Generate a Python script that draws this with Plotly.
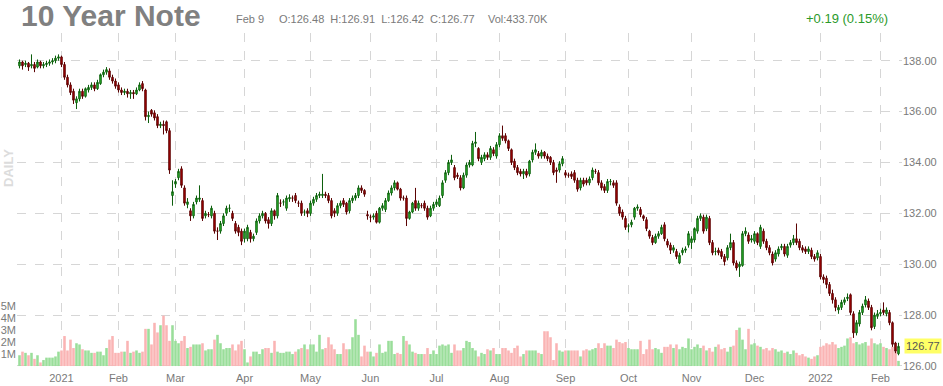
import pandas as pd
import plotly.graph_objects as go

# ---------------- data ----------------
holidays = ["2020-12-25", "2021-01-01", "2021-01-18", "2021-02-15", "2021-05-31",
            "2021-07-05", "2021-09-06", "2021-11-25", "2021-12-24", "2022-01-17"]
start_date, end_date = "2020-12-11", "2022-02-09"

opens = [
    # Dec 2020
    137.80, 137.95, 137.85, 137.90, 137.80, 137.85, 137.75, 137.95, 137.80, 137.85, 137.90, 137.95, 138.00, 138.10,
    # Jan 2021
    138.15, 137.85, 137.35, 137.05, 136.80, 136.35, 136.50, 136.80, 136.60, 136.85, 136.95, 137.05, 136.90, 137.10, 137.45, 137.55, 137.60, 137.35, 137.20,
    # Feb
    137.05, 136.85, 136.75, 136.80, 136.70, 136.75, 136.70, 136.85, 137.10, 136.85, 135.80, 136.05, 135.95, 135.80, 135.45, 135.50, 135.60, 135.25, 132.70,
    # Mar
    133.15, 133.40, 133.75, 133.00, 132.35, 132.10, 131.90, 132.45, 132.55, 132.50, 131.90, 131.95, 131.90, 132.00, 131.30, 131.30, 131.60, 132.00, 132.20, 132.00, 131.60, 131.45, 131.30,
    # Apr
    131.00, 131.00, 131.25, 131.00, 131.25, 131.70, 131.90, 132.00, 131.75, 131.60, 132.10, 131.90, 132.40, 132.45, 132.20, 132.57, 132.60, 132.70, 132.40, 132.40, 132.05, 132.10,
    # May
    132.00, 132.40, 132.55, 132.70, 132.70, 132.75, 132.70, 132.50, 132.10, 132.00, 132.30, 132.50, 132.40, 132.10, 132.50, 132.60, 132.70, 133.00, 132.90, 131.95,
    # Jun
    131.85, 131.85, 132.00, 131.65, 132.20, 132.15, 132.50, 132.80, 133.00, 133.20, 132.95, 132.60, 132.60, 131.80, 132.05, 132.50, 132.20, 132.30, 132.40, 132.20, 131.90, 132.20,
    # Jul
    132.35, 132.30, 132.70, 133.30, 133.60, 134.00, 133.80, 133.50, 133.40, 133.00, 133.50, 133.90, 133.90, 134.75, 134.55, 134.00, 134.15, 134.30, 134.20, 134.50, 134.25,
    # Aug
    134.70, 135.05, 135.05, 134.85, 134.50, 134.05, 133.80, 133.65, 133.55, 133.65, 133.55, 134.10, 134.40, 134.35, 134.25, 134.40, 134.25, 134.20, 134.00, 133.70, 133.70, 133.95,
    # Sep
    133.60, 133.50, 133.55, 133.60, 133.30, 133.00, 133.30, 133.30, 133.20, 133.40, 133.65, 133.60, 133.20, 133.05, 132.90, 133.25, 133.20, 133.20, 132.25, 132.05, 131.80,
    # Oct
    131.50, 131.55, 131.85, 132.20, 132.15, 131.90, 131.75, 131.30, 131.05, 130.85, 131.10, 131.20, 131.55, 130.90, 130.75, 130.55, 130.50, 130.05, 130.45, 130.55, 130.75,
    # Nov
    130.85, 130.95, 131.30, 131.80, 131.85, 131.40, 131.80, 130.85, 130.50, 130.55, 130.50, 130.30, 130.25, 130.65, 130.85, 130.05, 129.90, 129.95, 131.20, 131.15, 130.95,
    # Dec
    130.90, 131.20, 130.70, 131.30, 130.90, 130.65, 130.40, 130.20, 130.40, 130.65, 130.70, 130.35, 130.75, 130.85, 131.00, 130.90, 130.65, 130.60, 130.50, 130.55, 130.30, 130.25,
    # Jan 2022
    130.30, 129.50, 129.45, 129.20, 128.85, 128.60, 128.20, 128.30, 128.50, 128.65, 128.80, 128.05, 127.30, 127.65, 128.10, 128.40, 128.55, 128.30, 127.55, 127.95,
    # Feb 2022
    128.05, 128.20, 128.05, 128.10, 127.70, 126.90, 126.48,
]

highs = [
    138.05, 138.00, 138.00, 137.95, 138.25, 137.95, 138.05, 138.00, 137.95, 138.00, 138.05, 138.10, 138.20, 138.25,
    138.20, 137.95, 137.45, 137.15, 136.90, 136.60, 136.90, 136.90, 136.95, 137.05, 137.15, 137.15, 137.25, 137.50, 137.65, 137.75, 137.70, 137.45, 137.30,
    137.15, 136.95, 136.90, 136.90, 136.85, 136.85, 136.95, 137.15, 137.20, 136.90, 136.00, 136.10, 136.05, 135.90, 135.60, 135.65, 135.65, 135.35, 133.30,
    133.35, 133.75, 133.85, 133.10, 132.60, 132.20, 132.45, 132.70, 133.10, 132.60, 132.10, 132.05, 132.30, 132.10, 131.45, 131.70, 132.00, 132.30, 132.35, 132.10, 131.70, 131.55, 131.40,
    131.40, 131.55, 131.35, 131.20, 131.80, 132.00, 132.10, 132.05, 131.85, 132.20, 132.15, 132.80, 132.55, 132.55, 132.70, 132.75, 132.70, 132.80, 132.50, 132.50, 132.15, 132.20,
    132.50, 132.65, 132.80, 132.85, 133.55, 132.85, 132.80, 132.60, 132.20, 132.40, 132.50, 132.60, 132.45, 132.60, 132.70, 132.80, 133.10, 133.10, 132.95, 132.10,
    131.95, 132.00, 132.10, 132.25, 132.40, 132.60, 132.90, 133.10, 133.30, 133.25, 133.00, 132.70, 132.70, 132.10, 132.45, 133.00, 132.50, 132.40, 132.50, 132.30, 132.30, 132.45,
    132.55, 132.70, 133.30, 133.70, 134.10, 134.30, 133.90, 133.60, 133.50, 133.60, 134.00, 134.10, 134.85, 135.20, 134.60, 134.30, 134.40, 134.40, 134.65, 134.60, 134.80,
    135.15, 135.45, 135.15, 134.90, 134.55, 134.15, 133.90, 133.75, 133.75, 133.75, 134.10, 134.50, 134.75, 134.45, 134.50, 134.45, 134.35, 134.25, 134.10, 133.80, 134.05, 134.25,
    133.70, 133.60, 133.65, 133.70, 133.40, 133.40, 133.40, 133.40, 133.45, 133.80, 133.75, 133.70, 133.30, 133.15, 133.35, 133.35, 133.30, 133.30, 132.35, 132.15, 131.90,
    131.60, 131.75, 132.25, 132.35, 132.25, 131.95, 131.85, 131.35, 131.15, 131.20, 131.30, 131.55, 131.65, 131.00, 130.85, 130.75, 130.60, 130.45, 130.65, 130.70, 131.30,
    131.10, 131.45, 131.90, 132.00, 131.95, 131.95, 131.90, 130.95, 130.65, 130.65, 130.60, 130.40, 130.75, 131.20, 130.95, 130.15, 130.10, 131.30, 131.45, 131.25, 131.15,
    131.30, 131.25, 131.55, 131.40, 131.00, 130.75, 130.50, 130.55, 130.70, 130.80, 130.80, 130.80, 130.95, 131.15, 131.60, 131.00, 130.75, 130.70, 130.70, 130.65, 130.40, 130.55,
    130.40, 129.60, 129.55, 129.30, 129.00, 128.70, 128.40, 128.60, 128.70, 128.85, 128.85, 128.15, 127.80, 128.20, 128.45, 128.75, 128.65, 128.40, 128.10, 128.20,
    128.25, 128.50, 128.30, 128.20, 127.75, 126.95, 126.91,
]

lows = [
    137.70, 137.65, 137.75, 137.60, 137.70, 137.55, 137.70, 137.70, 137.70, 137.75, 137.80, 137.85, 137.90, 138.00,
    137.75, 137.25, 136.95, 136.65, 136.30, 136.10, 136.40, 136.50, 136.55, 136.75, 136.85, 136.80, 136.85, 137.05, 137.35, 137.45, 137.25, 137.10, 136.90,
    136.75, 136.65, 136.65, 136.55, 136.50, 136.50, 136.65, 136.80, 136.80, 135.65, 135.55, 135.80, 135.65, 135.35, 135.35, 135.10, 135.15, 133.55, 132.30,
    133.00, 133.30, 133.00, 132.30, 132.20, 131.70, 131.80, 132.35, 132.45, 131.70, 131.80, 131.85, 131.80, 131.20, 130.95, 131.20, 131.50, 131.90, 132.05, 131.70, 131.20, 131.10, 130.75,
    130.85, 130.90, 130.85, 130.90, 131.15, 131.60, 131.80, 131.60, 131.40, 131.50, 131.75, 131.80, 132.25, 132.30, 132.10, 132.45, 132.45, 132.40, 132.25, 131.90, 131.90, 131.85,
    131.90, 132.30, 132.45, 132.60, 132.60, 132.60, 132.40, 131.80, 131.85, 131.90, 132.20, 132.25, 131.95, 132.00, 132.40, 132.50, 132.60, 132.80, 132.65, 131.75,
    131.65, 131.75, 131.60, 131.60, 132.10, 132.05, 132.45, 132.70, 132.90, 132.90, 132.50, 132.50, 131.50, 131.75, 132.00, 132.10, 132.10, 132.20, 132.10, 131.75, 131.85, 132.10,
    132.25, 132.25, 132.60, 133.20, 133.50, 133.90, 133.30, 133.35, 132.90, 132.95, 133.40, 133.80, 133.85, 134.60, 134.05, 133.90, 134.05, 134.10, 134.10, 134.25, 134.15,
    134.60, 134.85, 134.75, 134.45, 133.90, 133.70, 133.50, 133.45, 133.35, 133.40, 133.45, 134.00, 134.30, 134.15, 134.15, 134.15, 134.05, 133.90, 133.50, 133.20, 133.60, 133.85,
    133.40, 133.40, 133.35, 133.20, 132.85, 132.90, 133.05, 133.10, 133.10, 133.30, 133.55, 133.10, 132.90, 132.80, 132.80, 133.10, 133.00, 132.30, 131.90, 131.75, 131.35,
    131.25, 131.45, 131.75, 132.10, 131.85, 131.70, 131.30, 131.00, 130.75, 130.80, 131.00, 131.15, 130.90, 130.65, 130.40, 130.45, 130.20, 130.00, 130.35, 130.45, 130.65,
    130.60, 130.85, 131.20, 131.70, 131.20, 131.30, 130.75, 130.35, 130.35, 130.35, 130.20, 129.95, 130.15, 130.55, 129.95, 129.75, 129.50, 129.90, 131.10, 130.80, 130.85,
    130.80, 130.75, 130.60, 130.80, 130.55, 130.35, 129.95, 130.10, 130.30, 130.55, 130.30, 130.25, 130.65, 130.75, 130.75, 130.55, 130.45, 130.40, 130.40, 130.20, 130.10, 130.15,
    129.40, 129.25, 129.05, 128.75, 128.45, 128.15, 128.05, 128.20, 128.40, 128.55, 128.00, 127.10, 127.20, 127.55, 128.00, 128.30, 128.20, 127.40, 127.45, 127.85,
    127.95, 128.00, 127.95, 127.60, 126.75, 126.50, 126.42,
]

closes = [
    137.95, 137.80, 137.90, 137.75, 137.85, 137.70, 137.95, 137.80, 137.85, 137.90, 137.95, 138.00, 138.10, 138.15,
    137.85, 137.35, 137.05, 136.75, 136.45, 136.50, 136.80, 136.60, 136.90, 136.95, 137.05, 136.90, 137.15, 137.45, 137.55, 137.65, 137.35, 137.20, 137.00,
    136.85, 136.75, 136.80, 136.70, 136.75, 136.70, 136.85, 137.05, 136.90, 135.80, 135.85, 135.90, 135.75, 135.45, 135.50, 135.45, 135.25, 133.70, 132.85,
    133.25, 133.65, 133.10, 132.40, 132.45, 131.90, 132.35, 132.60, 132.60, 131.80, 132.00, 131.95, 132.20, 131.30, 131.30, 131.60, 131.90, 132.20, 132.20, 131.80, 131.30, 131.25, 130.90,
    131.30, 131.45, 131.00, 131.10, 131.70, 131.90, 132.00, 131.70, 131.60, 132.10, 131.90, 132.70, 132.40, 132.45, 132.60, 132.62, 132.60, 132.50, 132.40, 132.00, 132.05, 132.00,
    132.40, 132.55, 132.70, 132.75, 132.75, 132.70, 132.50, 131.90, 132.00, 132.30, 132.40, 132.35, 132.05, 132.50, 132.60, 132.70, 133.00, 132.90, 132.75, 131.90,
    131.85, 131.90, 131.65, 132.20, 132.30, 132.50, 132.80, 133.00, 133.20, 132.95, 132.60, 132.60, 131.80, 132.05, 132.40, 132.20, 132.40, 132.30, 132.20, 131.85, 132.20, 132.35,
    132.45, 132.60, 133.20, 133.60, 134.00, 134.10, 133.40, 133.45, 133.00, 133.50, 133.90, 134.00, 134.75, 134.80, 134.15, 134.20, 134.30, 134.20, 134.55, 134.35, 134.70,
    135.05, 134.95, 134.85, 134.55, 134.00, 133.80, 133.60, 133.55, 133.65, 133.50, 134.05, 134.40, 134.50, 134.25, 134.40, 134.25, 134.15, 134.00, 133.60, 133.65, 133.95, 134.15,
    133.50, 133.50, 133.45, 133.30, 132.95, 133.30, 133.15, 133.20, 133.35, 133.70, 133.65, 133.20, 133.00, 132.90, 133.25, 133.25, 133.10, 132.40, 132.00, 131.85, 131.45,
    131.50, 131.65, 132.20, 132.25, 131.95, 131.80, 131.40, 131.10, 130.85, 131.10, 131.20, 131.45, 131.00, 130.75, 130.55, 130.65, 130.30, 130.35, 130.55, 130.60, 131.20,
    131.00, 131.40, 131.80, 131.90, 131.30, 131.85, 130.85, 130.45, 130.50, 130.45, 130.30, 130.10, 130.65, 130.85, 130.05, 129.85, 130.00, 131.20, 131.30, 130.90, 131.00,
    131.20, 130.85, 131.45, 130.90, 130.65, 130.45, 130.05, 130.45, 130.60, 130.70, 130.40, 130.70, 130.85, 131.00, 130.85, 130.65, 130.55, 130.50, 130.60, 130.30, 130.20, 130.45,
    129.50, 129.40, 129.20, 128.85, 128.60, 128.30, 128.30, 128.50, 128.60, 128.70, 128.10, 127.30, 127.70, 128.10, 128.35, 128.60, 128.30, 127.50, 128.00, 128.05,
    128.10, 128.10, 128.20, 127.70, 126.85, 126.58, 126.77,
]

volumes_m = [
    0.9, 1.2, 1.1, 0.9, 1.1, 0.6, 0.9, 0.3, 0.5, 0.7, 0.7, 0.7, 0.8, 1.2,
    1.3, 2.5, 1.3, 2.2, 1.5, 1.9, 1.8, 1.4, 1.3, 1.3, 1.1, 1.1, 1.2, 1.2, 0.9, 1.5, 2.2, 2.5, 1.1,
    1.1, 1.2, 1.2, 2.1, 1.1, 1.2, 1.3, 1.1, 1.2, 3.1, 3.1, 1.8, 3.6, 2.8, 3.4, 4.2, 3.4, 2.1, 3.4,
    2.1, 1.9, 2.1, 2.5, 1.5, 1.6, 1.8, 1.8, 1.8, 1.9, 1.3, 1.4, 1.4, 2.2, 2.6, 1.9, 1.4, 1.5, 1.5, 1.8, 1.3, 1.8, 2.1,
    1.4, 0.3, 0.8, 1.2, 1.2, 1.0, 1.4, 1.5, 1.5, 1.1, 2.1, 1.2, 1.1, 1.1, 1.2, 1.2, 1.0, 1.2, 1.4, 1.5, 1.8, 1.4,
    1.8, 1.8, 1.2, 2.6, 1.4, 1.5, 2.4, 1.8, 1.4, 1.0, 1.0, 1.9, 1.4, 1.4, 2.4, 3.9, 2.6, 0.8, 1.7, 1.2,
    1.2, 0.8, 1.1, 1.8, 1.1, 1.2, 2.1, 2.1, 1.0, 1.1, 1.0, 2.5, 2.1, 1.8, 1.2, 1.1, 1.0, 1.0, 1.0, 1.5, 1.0, 1.3,
    1.0, 1.7, 1.8, 1.7, 1.8, 1.1, 1.8, 1.3, 1.3, 1.5, 2.1, 2.0, 1.5, 1.3, 0.8, 1.1, 1.0, 1.4, 1.3, 1.5, 1.0,
    1.0, 1.5, 1.5, 1.3, 1.1, 1.5, 1.7, 0.8, 1.0, 1.3, 1.3, 1.3, 1.3, 1.1, 1.0, 2.9, 2.9, 2.4, 0.5, 1.9, 1.3, 1.2,
    1.3, 1.3, 1.3, 1.3, 1.3, 0.8, 1.3, 1.4, 1.3, 1.4, 1.5, 1.9, 1.5, 1.9, 1.7, 1.7, 1.5, 2.2, 2.0, 1.9, 2.0,
    1.5, 1.4, 1.4, 1.4, 2.1, 1.0, 1.4, 2.2, 1.4, 1.5, 1.4, 1.1, 1.6, 1.6, 1.8, 1.5, 1.8, 1.4, 1.6, 1.5, 2.3,
    1.4, 1.6, 1.8, 1.5, 1.7, 1.3, 1.5, 1.2, 1.6, 1.8, 1.4, 1.5, 1.2, 1.6, 1.7, 3.0, 3.2, 2.2, 1.4, 3.1, 1.8,
    1.9, 1.7, 1.6, 1.4, 1.5, 1.3, 1.5, 1.4, 1.2, 1.3, 1.1, 1.2, 1.0, 1.3, 1.1, 0.9, 1.0, 0.8, 0.7, 0.6, 0.8, 0.9,
    1.6, 1.7, 1.9, 1.8, 2.0, 1.8, 1.5, 1.6, 1.7, 2.3, 2.4, 1.9, 2.0, 1.8, 1.9, 2.0, 1.7, 2.3, 1.9, 1.8,
    1.9, 1.6, 1.5, 1.4, 1.6, 1.2, 0.43,
]

price_ticks = [126, 128, 130, 132, 134, 136, 138]
volume_ticks = [1, 2, 3, 4, 5]
volume_tick_text = ["1M", "2M", "3M", "4M", "5M"]

header_date = "Feb 9"
header_ohlc = "O:126.48\u00a0\u00a0H:126.91\u00a0\u00a0L:126.42\u00a0\u00a0C:126.77"
header_vol = "Vol:433.70K"
header_change = "+0.19 (0.15%)"
last_price = 126.77

# ---------------- build ----------------
dates = [d for d in pd.bdate_range(start_date, end_date) if d.strftime("%Y-%m-%d") not in holidays]
n = len(dates)
lens = (len(opens), len(highs), len(lows), len(closes), len(volumes_m), n)
assert len(set(lens)) == 1, lens

xi = list(range(n))
tickvals, ticktext = [], []
for i in range(1, n):
    if dates[i].month != dates[i - 1].month:
        tickvals.append(i)
        ticktext.append(str(dates[i].year) if dates[i].month == 1 else dates[i].strftime("%b"))

GREEN_VOL = "rgb(154,222,154)"
RED_VOL = "rgb(250,180,180)"
vcolors = [GREEN_VOL if c >= o else RED_VOL for o, c in zip(opens, closes)]

FONT = "Arial, Liberation Sans, sans-serif"
GRID = "#d6d6d6"
TXT = "#7a7a7a"

fig = go.Figure()
fig.add_trace(go.Bar(x=xi, y=volumes_m, marker=dict(color=vcolors, line=dict(width=0)),
                     width=0.85, yaxis="y", hoverinfo="skip"))
fig.add_trace(go.Candlestick(
    x=xi, open=opens, high=highs, low=lows, close=closes, yaxis="y2",
    increasing=dict(line=dict(color="#0b5e0b", width=1), fillcolor="#33cc33"),
    decreasing=dict(line=dict(color="#5a0000", width=1), fillcolor="#bb0000"),
    whiskerwidth=0))

L, R, T, B = 17, 41, 33, 16
W, H = 943, 386
pw, ph = W - L - R, H - T - B


def px(xp):
    return (xp - L) / pw


def py(yp):
    return (H - B - yp) / ph


fig.update_layout(
    width=W, height=H, margin=dict(l=L, r=R, t=T, b=B, autoexpand=False),
    paper_bgcolor="white", plot_bgcolor="white", showlegend=False,
    font=dict(family=FONT, size=11, color=TXT),
    bargap=0.1,
    xaxis=dict(range=[-0.83, 294.17], tickvals=tickvals, ticktext=ticktext, automargin=False,
               showgrid=True, gridcolor=GRID, griddash="dash", gridwidth=1,
               zeroline=False, showline=False, ticks="", rangeslider=dict(visible=False),
               tickfont=dict(size=11, color=TXT)),
    yaxis=dict(range=[-0.33, 27.75], tickvals=volume_ticks, ticktext=volume_tick_text,
               side="left", showgrid=False, zeroline=False, showline=False, ticks="",
               automargin=False, tickfont=dict(size=11, color=TXT)),
    yaxis2=dict(range=[125.84, 139.09], tickvals=price_ticks, automargin=False,
                ticktext=[f"{v:.2f}" for v in price_ticks], overlaying="y", side="right",
                showgrid=True, gridcolor=GRID, griddash="dash", gridwidth=1,
                zeroline=False, showline=False, ticks="", tickfont=dict(size=11, color=TXT)),
)

ann = [
    dict(text="<b>10 Year Note</b>", x=px(19), y=py(16), xanchor="left", yanchor="middle",
         font=dict(size=30, color="#808080")),
    dict(text=header_date, x=px(234), y=py(19), xanchor="left", yanchor="middle",
         font=dict(size=11, color=TXT)),
    dict(text=header_ohlc, x=px(277), y=py(19), xanchor="left", yanchor="middle",
         font=dict(size=11, color=TXT)),
    dict(text=header_vol, x=px(486), y=py(19), xanchor="left", yanchor="middle",
         font=dict(size=11, color=TXT)),
    dict(text=header_change, x=px(804), y=py(19), xanchor="left", yanchor="middle",
         font=dict(size=13, color="#2a9a2a")),
    dict(text="<b>DAILY</b>", x=px(9), y=py(168), xanchor="center", yanchor="middle",
         textangle=-90, font=dict(size=13, color="#dcdcdc")),
    dict(text=f"{last_price:.2f}", x=1, xref="paper", y=last_price, yref="y2", xanchor="left",
         yanchor="middle", xshift=2, bgcolor="#ffff66", borderpad=1,
         font=dict(size=11, color="#555555")),
]
for a in ann:
    a.setdefault("xref", "paper")
    a.setdefault("yref", "paper")
    a["showarrow"] = False
fig.update_layout(annotations=ann)

fig.write_html("out.html", config={"displayModeBar": False},
               post_script="document.body.style.margin='0px';")
